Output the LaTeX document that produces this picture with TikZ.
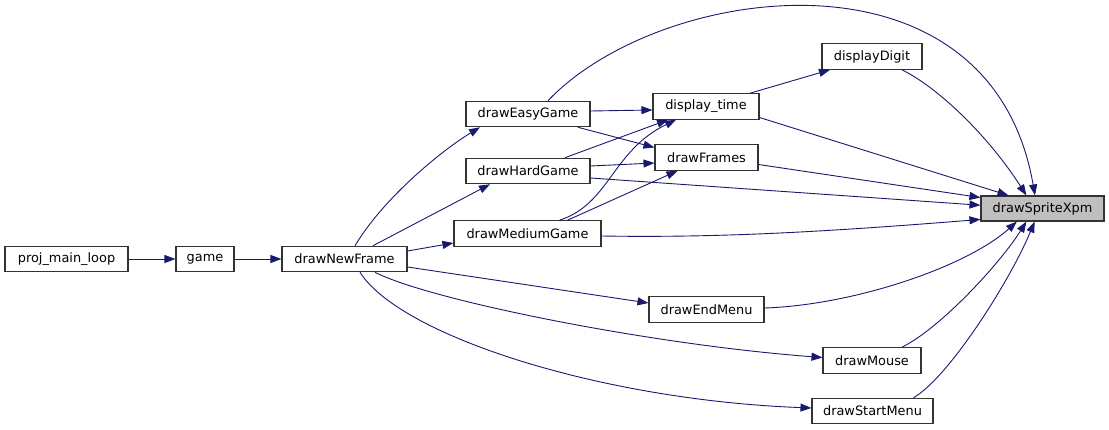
\documentclass[tikz,border=0pt]{standalone}
\usepackage{fontspec}
\setmainfont{DejaVu Sans}
\usepackage{tikz}
\usetikzlibrary{arrows.meta}
\usepackage{xcolor}
\definecolor{edgeblue}{RGB}{25,25,112}
\definecolor{boxgray}{RGB}{191,191,191}

\begin{document}
\begin{tikzpicture}[x=1pt,y=-1pt,
    fn/.style={draw=black!80, line width=1.1pt, minimum height=25.5pt, inner sep=0pt,
        font=\fontsize{12.9}{15}\selectfont},
    call/.style={edgeblue, line width=0.9pt, -{Triangle[length=11pt,width=8pt]}}]
    \useasboundingbox (0,0) rectangle (1109,430);

    % Functions
    \foreach \n/\x/\y/\w/\t in {mainloop/66.5/259/123/proj\_main\_loop, game/205/259/58/game,
        newframe/344.5/259/125/drawNewFrame, easygame/528/114/124/drawEasyGame,
        hardgame/528/171/124/drawHardGame, mediumgame/527.5/233.5/147/drawMediumGame,
        displaytime/706/106.5/106/display\_time, frames/706.5/157.5/103/drawFrames,
        digit/872/56.5/100/displayDigit, endmenu/706.5/309.5/115/drawEndMenu,
        mouse/872/360.5/98/drawMouse, startmenu/872.5/411/121/drawStartMenu} {
        \node[fn, minimum width=\w pt] (\n) at (\x,\y) {\t};
    }
    \node[fn, fill=boxgray, minimum width=123pt, minimum height=25pt] (sprite) at (1042.5,208.5) {drawSpriteXpm};

    % Main loop
    \draw[call] (mainloop) -- (game);
    \draw[call] (game) -- (newframe);

    % Called from drawNewFrame
    \draw[call] ([xshift=10.5pt]newframe.north) .. controls +(30,-50) and +(-35,21) .. ([xshift=-48pt]easygame.south);
    \draw[call] ([xshift=28.5pt]newframe.north) -- ([xshift=-38pt]hardgame.south);
    \draw[call] ([yshift=8pt]newframe.east) -- ([yshift=-9.5pt]mediumgame.west);
    \draw[call] ([yshift=-8pt]newframe.east) -- ([yshift=6.5pt]endmenu.west);
    \draw[call] ([xshift=30.5pt]newframe.south) .. controls +(55,28) and +(-173,-13) .. ([yshift=3pt]mouse.west);
    \draw[call] ([xshift=15.5pt]newframe.south) .. controls +(40,63) and +(-212,-8) .. ([yshift=3pt]startmenu.west);

    % Called from the game modes
    \draw[call] ([yshift=3pt]easygame.east) -- ([yshift=-3.5pt]displaytime.west);
    \draw[call] ([xshift=50pt]easygame.south) -- ([yshift=10pt]frames.west);
    \draw[call] ([xshift=37pt]hardgame.north) -- ([xshift=-38pt]displaytime.south);
    \draw[call] ([yshift=5pt]hardgame.east) -- ([yshift=-5.5pt]frames.west);
    \draw[call] ([xshift=32pt]mediumgame.north) .. controls +(50,-16) and +(-64,31) .. ([xshift=-30pt]displaytime.south);
    \draw[call] ([xshift=40pt]mediumgame.north) -- ([xshift=-29pt]frames.south);
    \draw[call] ([xshift=44pt]displaytime.north) -- ([xshift=-42pt]digit.south);

    % Into drawSpriteXpm
    \draw[call] ([xshift=20pt]easygame.north) .. controls +(112,-118) and +(-45,-258) .. ([xshift=-7.5pt]sprite.north);
    \draw[call] ([xshift=30pt]digit.south) .. controls +(40,20) and +(-35,-55) .. (sprite.141);
    \draw[call] ([yshift=-11pt]displaytime.east) -- (sprite.159);
    \draw[call] ([yshift=-7pt]frames.east) -- (sprite.170);
    \draw[call] ([yshift=-7pt]hardgame.east) -- (sprite.177);
    \draw[call] ([yshift=-2.5pt]mediumgame.east) .. controls +(120,2) and +(-150,12) .. (sprite.190);
    \draw[call] ([yshift=1.5pt]endmenu.east) .. controls +(90,-3) and +(-50,45) .. (sprite.207);
    \draw[call] ([xshift=30pt]mouse.north) .. controls +(40,-20) and +(-25,40) .. (sprite.219);
    \draw[call] ([xshift=41pt]startmenu.north) .. controls +(35,-20) and +(-25,60) .. (sprite.239);
\end{tikzpicture}
\end{document}
